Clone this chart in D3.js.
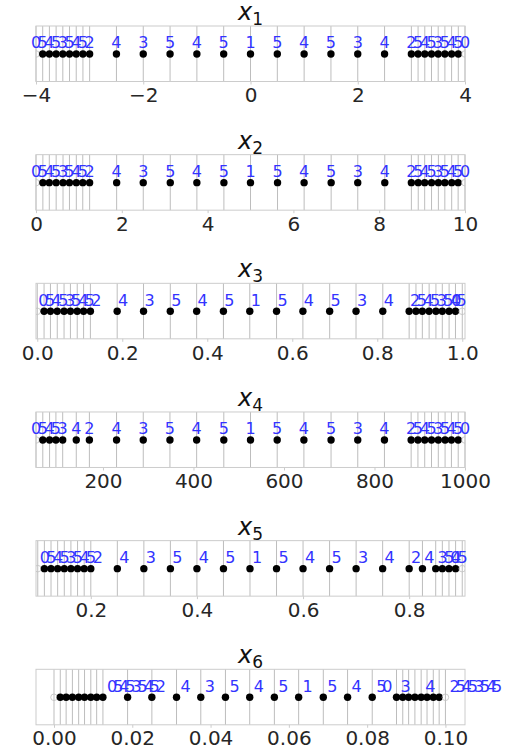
<!DOCTYPE html>
<html>
<head>
<meta charset="utf-8">
<script src="https://cdn.jsdelivr.net/npm/d3@7"></script>
<style>
  body { margin: 0; background: #fff; }
  svg { display: block; }
</style>
</head>
<body>
<script>
// Sample positions per variable (first and last are the open end points)
const x1 = [-4, -3.875, -3.75, -3.625, -3.5, -3.375, -3.25, -3.125, -3, -2.5, -2, -1.5, -1, -0.5, 0,
  0.5, 1, 1.5, 2, 2.5, 3, 3.125, 3.25, 3.375, 3.5, 3.625, 3.75, 3.875, 4];
const x2 = [0, 0.16, 0.31, 0.47, 0.63, 0.78, 0.94, 1.09, 1.25, 1.88, 2.5, 3.13, 3.75, 4.38, 5,
  5.63, 6.25, 6.88, 7.5, 8.13, 8.75, 8.91, 9.06, 9.22, 9.38, 9.53, 9.69, 9.84, 10];
const x3 = [0, 0.016, 0.031, 0.047, 0.063, 0.078, 0.094, 0.109, 0.125, 0.188, 0.25, 0.313, 0.375, 0.438, 0.5,
  0.563, 0.625, 0.688, 0.75, 0.813, 0.875, 0.891, 0.906, 0.922, 0.938, 0.953, 0.969, 0.984, 1];
const x4 = [52, 67, 82, 96, 111, 141, 170, 230, 289, 348, 407, 467, 526,
  585, 644, 704, 763, 822, 881, 896, 911, 926, 941, 956, 970, 985, 1000];
const x5 = [0.1, 0.1125, 0.125, 0.1375, 0.15, 0.1625, 0.175, 0.1875, 0.2, 0.25, 0.3, 0.35, 0.4, 0.45, 0.5,
  0.55, 0.6, 0.65, 0.7, 0.75, 0.8, 0.825, 0.85, 0.8625, 0.875, 0.8875, 0.9];
const x6 = [0, 0.0016, 0.0031, 0.0047, 0.0063, 0.0078, 0.0094, 0.0109, 0.0125, 0.0188, 0.025, 0.0313, 0.0375, 0.0438, 0.05,
  0.0563, 0.0625, 0.0688, 0.075, 0.0813, 0.0875, 0.0891, 0.0906, 0.0922, 0.0938, 0.0953, 0.0969, 0.0984, 0.1];

// Level digit printed above each sample
const digitsFull = ["0", "5", "4", "5", "3", "5", "4", "5", "2", "4", "3", "5", "4", "5", "1",
  "5", "4", "5", "3", "4", "2", "5", "4", "5", "3", "5", "4", "5", "0"];
const digits4 = ["0", "5", "4", "5", "3", "4", "2", "4", "3", "5", "4", "5", "1",
  "5", "4", "5", "3", "4", "2", "5", "4", "5", "3", "5", "4", "5", "0"];
const digits5 = ["0", "5", "4", "5", "3", "5", "4", "5", "2", "4", "3", "5", "4", "5", "1",
  "5", "4", "5", "3", "4", "2", "4", "3", "5", "4", "5", "0"];

// Tick labels
const ticks1 = [-4, -2, 0, 2, 4];
const ticks2 = [0, 2, 4, 6, 8, 10];
const ticks3 = [0, 0.2, 0.4, 0.6, 0.8, 1.0];
const ticks4 = [200, 400, 600, 800, 1000];
const ticks5 = [0.2, 0.4, 0.6, 0.8];
const ticks6 = [0, 0.02, 0.04, 0.06, 0.08, 0.10];

const panels = [
  { name: "1", values: x1, digits: digitsFull, ticks: ticks1, fmt: d3.format("d"), domain: [-4, 4], dx: 0 },
  { name: "2", values: x2, digits: digitsFull, ticks: ticks2, fmt: d3.format("d"), domain: [0, 10], dx: 0 },
  { name: "3", values: x3, digits: digitsFull, ticks: ticks3, fmt: d3.format(".1f"), domain: [-0.003, 1.0064], dx: 6, flip: true },
  { name: "4", values: x4, digits: digits4, ticks: ticks4, fmt: d3.format("d"), domain: [52, 1000], dx: 0 },
  { name: "5", values: x5, digits: digits5, ticks: ticks5, fmt: d3.format(".1f"), domain: [0.0967, 0.9052], dx: 7, flip: true },
  { name: "6", values: x6, digits: digitsFull, ticks: ticks6, fmt: d3.format(".2f"), domain: [-0.0046, 0.105], dx: 58, flip: true }
];

const width = 510;
const height = 746;
const left = 36;
const right = 465;
const boxH = 55.5;
const firstTop = 26;
const step = 128.66;

const svg = d3.select("body")
  .append("svg")
  .attr("width", width)
  .attr("height", height)
  .attr("font-family", "'DejaVu Sans', sans-serif");

panels.forEach((p, i) => {
  const top = firstTop + i * step;
  const g = svg.append("g").attr("transform", `translate(0,${top})`);
  const x = d3.scaleLinear().domain(p.domain).range([left, right]);
  const last = p.values.length - 1;

  g.append("clipPath")
    .attr("id", `clip${i}`)
    .append("rect")
    .attr("x", left)
    .attr("y", 0)
    .attr("width", right - left)
    .attr("height", boxH);

  // vertical line through every sample
  g.append("g")
    .selectAll("line")
    .data(p.values)
    .join("line")
    .attr("x1", d => x(d))
    .attr("x2", d => x(d))
    .attr("y1", 0)
    .attr("y2", boxH)
    .attr("stroke", "#bdbdbd")
    .attr("stroke-width", 1);

  // frame
  g.append("rect")
    .attr("x", left)
    .attr("y", 0)
    .attr("width", right - left)
    .attr("height", boxH)
    .attr("fill", "none")
    .attr("stroke", "#cccccc")
    .attr("stroke-width", 1);

  // x axis
  const axis = g.append("g")
    .attr("transform", `translate(0,${boxH})`)
    .call(d3.axisBottom(x).tickValues(p.ticks).tickFormat(p.fmt).tickSize(3).tickPadding(3.5));
  axis.select(".domain").remove();
  axis.selectAll(".tick line").attr("stroke", "#cccccc");
  axis.attr("font-family", "'DejaVu Sans', sans-serif").attr("font-size", 20);
  axis.selectAll(".tick text").attr("fill", "#262626");

  // points
  g.append("g")
    .attr("clip-path", `url(#clip${i})`)
    .selectAll("circle")
    .data(p.values)
    .join("circle")
    .attr("cx", d => x(d))
    .attr("cy", 28)
    .attr("r", (d, j) => (j === 0 || j === last) ? 3.3 : 3.7)
    .attr("fill", (d, j) => (j === 0 || j === last) ? "none" : "#000")
    .attr("stroke", (d, j) => (j === 0 || j === last) ? "#c0c0c0" : "none")
    .attr("stroke-width", 0.8);

  // digits
  g.append("g")
    .selectAll("text")
    .data(p.values)
    .join("text")
    .attr("x", (d, j) => x(d) + (p.flip && j === last ? -p.dx : p.dx))
    .attr("y", 22.3)
    .attr("text-anchor", "middle")
    .attr("font-size", 16)
    .attr("fill", "#3333ff")
    .text((d, j) => p.digits[j]);

  // title
  const title = g.append("text")
    .attr("x", (left + right) / 2)
    .attr("y", -6)
    .attr("text-anchor", "middle")
    .attr("fill", "#111");
  title.append("tspan")
    .attr("font-style", "italic")
    .attr("font-size", 24)
    .text("x");
  title.append("tspan")
    .attr("font-size", 17)
    .attr("dy", 5)
    .text(p.name);
});
</script>
</body>
</html>
